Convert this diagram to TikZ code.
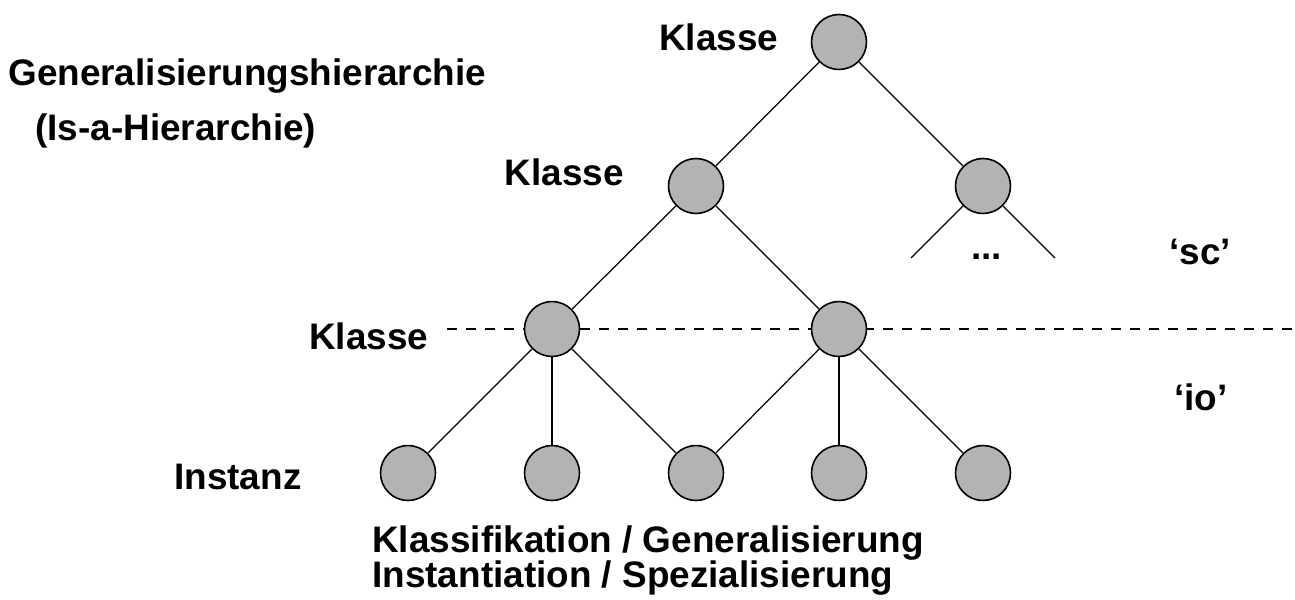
\documentclass[tikz,border=0pt]{standalone}
\usepackage{fontspec}
\setmainfont{Liberation Sans}
\usetikzlibrary{positioning}
\definecolor{kreisgrau}{RGB}{179,179,179}
\tikzset{
    % Knoten der Hierarchie
    kreis/.style={
        circle,
        draw=black,
        line width=0.9pt,
        fill=kreisgrau,
        minimum size=1.1cm,
        inner sep=0pt
    },
    kante/.style={
        line width=0.7pt,
        black
    },
    trenner/.style={
        line width=0.7pt,
        black,
        dash pattern=on 5.7pt off 5.1pt
    },
    txt/.style={
        inner sep=0pt,
        anchor=base west,
        font=\fontsize{21pt}{25pt}\selectfont\bfseries
    }
}

\begin{document}
\begin{tikzpicture}[x=0.02cm,y=-0.02cm]
   \useasboundingbox (0,0) rectangle (1295,599);
   \path
    (447,329) coordinate (trennA)
    (1295,329) coordinate (trennB)
    (911,258) coordinate (offenL)
    (1055,258) coordinate (offenR);

    % gestrichelte Grenze zwischen 'sc' und 'io'
    \draw[trenner] (trennA) -- (trennB);

    % Kreise
    \node[kreis] (k0) at (839,42) {};
    \node[kreis] (k1) at (696,186) {};
    \node[kreis] (k2) at (983,186) {};
    \node[kreis] (k3) at (552,329) {};
    \node[kreis] (k4) at (839,329) {};
    \foreach \x [count=\i] in {408,552,696,839,983}
        \node[kreis] (i\i) at (\x,473) {};

    % Kanten
    \draw[kante] (k0) -- (k1);
    \draw[kante] (k0) -- (k2);
    \draw[kante] (k1) -- (k3);
    \draw[kante] (k1) -- (k4);
    \draw[kante] (k2) -- (offenL);
    \draw[kante] (k2) -- (offenR);
    \draw[kante] (k3) -- (i1);
    \draw[kante] (k3) -- (i2);
    \draw[kante] (k3) -- (i3);
    \draw[kante] (k4) -- (i3);
    \draw[kante] (k4) -- (i4);
    \draw[kante] (k4) -- (i5);

    % Beschriftungen
    \node[txt] (tKlasseA) at (659,50) {Klasse};
    \node[txt,anchor=base east] (tKlasseB) at (624,185) {Klasse};
    \node[txt] (tKlasseC) at (309,349) {Klasse};
    \node[txt] (tInstanz) at (174,489) {Instanz};
    \node[txt] (tGen) at (8,85) {Generalisierungshierarchie};
    \node[txt] (tIsa) at (35,140) {(Is-a-Hierarchie)};
    \node[txt] (tDots) at (971,259) {...};
    \node[txt] (tSc) at (1169,264) {‘sc’};
    \node[txt] (tIo) at (1174,410) {‘io’};
    \node[txt] (tKlass) at (372,552) {Klassifikation / Generalisierung};
    \node[txt] (tInst) at (372,587) {Instantiation / Spezialisierung};

\end{tikzpicture}
\end{document}
